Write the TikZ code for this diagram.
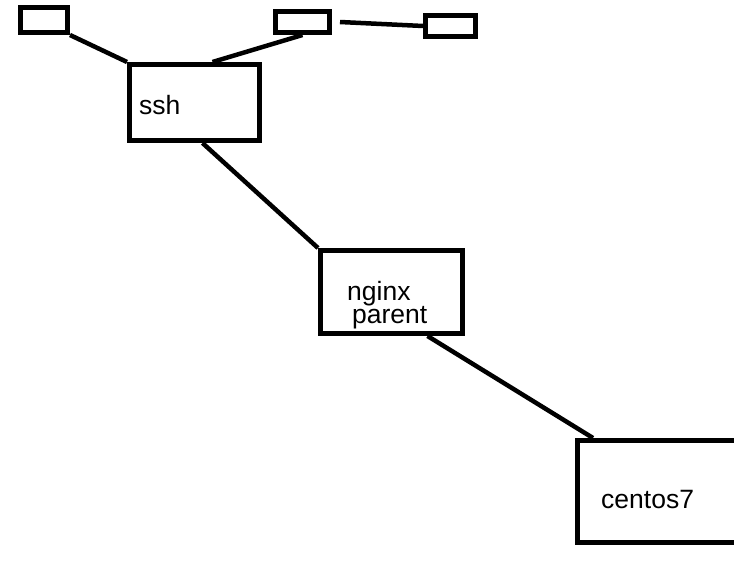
\documentclass[tikz,border=0pt]{standalone}
\usepackage{fontspec}
\setmainfont{Liberation Sans}
\usetikzlibrary{positioning, calc}

\begin{document}
\begin{tikzpicture}[
    x=1pt, y=-1pt,
    box/.style={draw, line width=5pt, rectangle, inner sep=0pt},
    lbl/.style={font=\fontsize{26.5}{23.5}\selectfont, inner sep=0pt, anchor=west},
    link/.style={line width=4.5pt}
]
\useasboundingbox (0,0) rectangle (734,578);

% Small boxes at the top
\node[box, minimum width=47pt, minimum height=25pt] (left) at (44, 20) {};
\node[box, minimum width=54pt, minimum height=21pt] (mid) at (302.5, 22) {};
\node[box, minimum width=50pt, minimum height=21pt] (right) at (450.5, 26) {};

% Main boxes
\node[box, minimum width=130pt, minimum height=76pt] (ssh) at (194.5, 102.5) {};
\node[lbl] (sshtext) at (139, 105) {ssh};

\node[box, minimum width=142pt, minimum height=83pt] (nginx) at (391.5, 292) {};
\node[lbl, align=left] (nginxtext) at (347, 305) {nginx\\\hspace*{5pt}parent};

\node[box, minimum width=165pt, minimum height=102pt] (centos) at (660, 491.5) {};
\node[lbl] (centostext) at (601, 500) {centos7};

% Connections
\draw[link] (left.south east) -- (ssh.north west);
\draw[link] (mid.south) -- ([xshift=18pt]ssh.north);
\draw[link] ([xshift=8pt]mid.east) -- (right.west);
\draw[link] ([xshift=8pt]ssh.south) -- (nginx.north west);
\draw[link] ([xshift=36pt]nginx.south) -- ([xshift=18pt]centos.north west);

\end{tikzpicture}
\end{document}
